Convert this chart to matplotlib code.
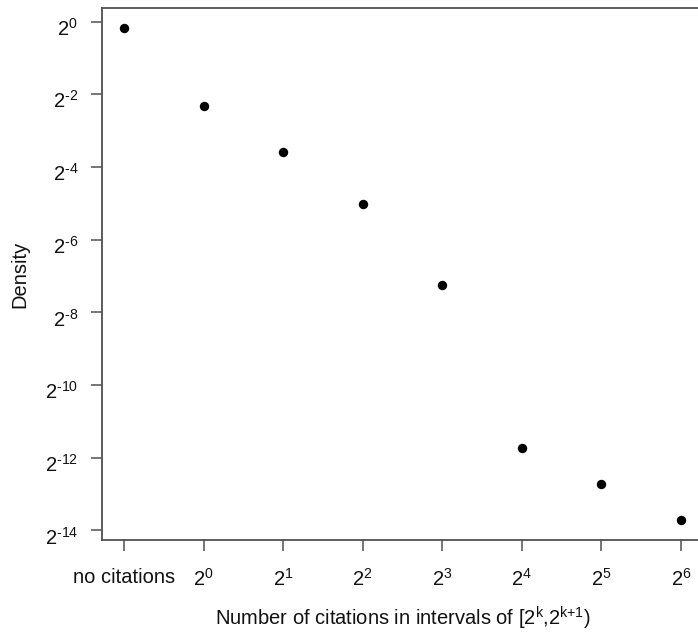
import matplotlib
matplotlib.use('Agg')
import matplotlib.pyplot as plt
from matplotlib.transforms import ScaledTranslation
import numpy as np

# ---- data ----
categories = ['no citations', '$2^{0}$', '$2^{1}$', '$2^{2}$', '$2^{3}$',
              '$2^{4}$', '$2^{5}$', '$2^{6}$']
log2_density = [-0.17, -2.33, -3.59, -5.03, -7.26, -11.72, -12.73, -13.72]
ytick_exponents = [0, -2, -4, -6, -8, -10, -12, -14]
ytick_labels = [r'$2^{\text{%d}}$' % e for e in ytick_exponents]
density = [2.0 ** v for v in log2_density]

plt.rcParams['font.family'] = ['Liberation Sans', 'DejaVu Sans']
plt.rcParams['mathtext.fontset'] = 'custom'
plt.rcParams['mathtext.rm'] = 'Liberation Sans'
plt.rcParams['mathtext.it'] = 'Liberation Sans:italic'
plt.rcParams['mathtext.bf'] = 'Liberation Sans:bold'

W, H = 698, 634
fig = plt.figure(figsize=(W / 100, H / 100), dpi=100)
left_px, right_px, top_px, bottom_px = 101.7, 703.3, 8, 540
ax = fig.add_axes([left_px / W, 1 - bottom_px / H,
                   (right_px - left_px) / W, (bottom_px - top_px) / H])

x = np.arange(len(categories))
ax.scatter(x, density, s=46, c='black', zorder=3, clip_on=False, linewidths=0)

ax.set_yscale('log', base=2)
# R-style 4% axis extension
xr = x.max() - x.min()
ax.set_xlim(x.min() - 0.04 * xr, x.max() + 0.04 * xr)
lo, hi = min(log2_density), max(log2_density)
yr = hi - lo
ax.set_ylim(2.0 ** (lo - 0.04 * yr), 2.0 ** (hi + 0.04 * yr))

ax.set_xticks(x)
ax.set_xticklabels(categories)
ax.set_yticks([2.0 ** e for e in ytick_exponents])
ax.set_yticklabels(ytick_labels)
ax.minorticks_off()

spine_col = '#505050'
for s in ax.spines.values():
    s.set_color(spine_col)
    s.set_linewidth(1.3)
ax.tick_params(axis='both', length=8, width=1.1, color=spine_col,
               labelsize=14.5, labelcolor='#111111')
ax.tick_params(axis='y', pad=9)
ax.tick_params(axis='x', pad=12)

shift = ScaledTranslation(0, -5 / 100, fig.dpi_scale_trans)
for lbl in ax.get_yticklabels():
    lbl.set_transform(lbl.get_transform() + shift)

ax.set_ylabel('Density', fontsize=14.5, color='#111111')
ax.yaxis.set_label_coords(-(101.7 - 20) / (right_px - left_px), 0.5)
ax.yaxis.label.set_va('center')
ax.set_xlabel(r'Number of citations in intervals of [2$^{\text{k}}$,2$^{\text{k+1}}$)',
              fontsize=14.5, color='#111111')
ax.xaxis.set_label_coords(0.5, -(618 - bottom_px) / (bottom_px - top_px))
ax.xaxis.label.set_va('center')

fig.savefig('out.png', dpi=100, facecolor='white')
